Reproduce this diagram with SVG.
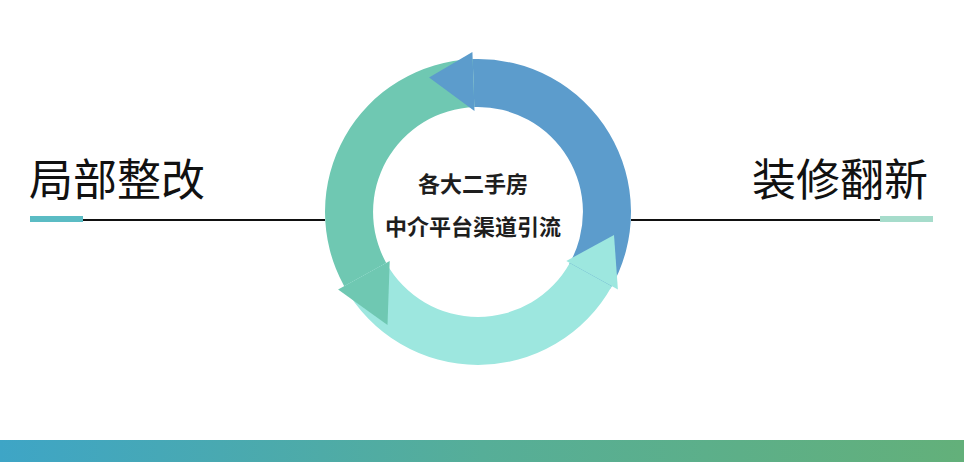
<svg xmlns="http://www.w3.org/2000/svg" width="964" height="462" viewBox="0 0 964 462">
  <defs>
    <linearGradient id="barGrad" x1="0" y1="0" x2="1" y2="0">
      <stop offset="0" stop-color="#3ea5c6"/>
      <stop offset="0.5" stop-color="#56ae98"/>
      <stop offset="1" stop-color="#63b07a"/>
    </linearGradient>
  </defs>
  <style>
    .title { font-family: "Noto Sans CJK SC", "Noto Sans", sans-serif; font-size: 44px; fill: #111; font-weight: 400; }
    .center { font-family: "Noto Sans CJK SC", "Noto Sans", sans-serif; font-size: 22px; fill: #1e1e1e; font-weight: 700; text-anchor: middle; }
    .line { stroke: #111; stroke-width: 2; fill: none; }
    .blue { fill: #5c9ccc; }
    .green { fill: #6fc8b2; }
    .cyan { fill: #9de7df; }
  </style>
  <rect width="964" height="462" fill="#ffffff"/>

  <g id="connectors">
    <line class="line" x1="83" y1="220" x2="325" y2="220"/>
    <line class="line" x1="631" y1="220" x2="880" y2="220"/>
  </g>

  <g id="cycle">
    <!-- bodies -->
    <path class="blue" d="M610.5,288.5 A153,153 0 0 0 472.7,59.1 L474.3,107.1 A105,105 0 0 1 568.9,264.5 Z"/>
    <path class="green" d="M472.7,59.1 A153,153 0 0 0 344.2,286.2 L386.2,262.9 A105,105 0 0 1 474.3,107.1 Z"/>
    <path class="cyan" d="M344.2,286.2 A153,153 0 0 0 611.8,286.2 L569.8,262.9 A105,105 0 0 1 386.2,262.9 Z"/>
    <!-- heads -->
    <polygon class="blue" points="472.4,52.1 474.5,111.1 429.1,77.6"/>
    <polygon class="green" points="338.1,289.6 389.7,261 387.5,325"/>
    <polygon class="cyan" points="617.9,289.6 566.3,261 614,235"/>
  </g>

  <g id="center-label">
    <text class="center" x="473" y="192">各大二手房</text>
    <text class="center" x="473" y="235">中介平台渠道引流</text>
  </g>

  <g id="left-node">
    <text class="title" x="29" y="196">局部整改</text>
    <rect x="30" y="216" width="53" height="6" fill="#5bbcc4"/>
  </g>

  <g id="right-node">
    <text class="title" x="752" y="196">装修翻新</text>
    <rect x="880" y="216" width="53" height="6" fill="#a6dccb"/>
  </g>

  <rect id="bottom-bar" x="0" y="440" width="964" height="22" fill="url(#barGrad)"/>
</svg>
